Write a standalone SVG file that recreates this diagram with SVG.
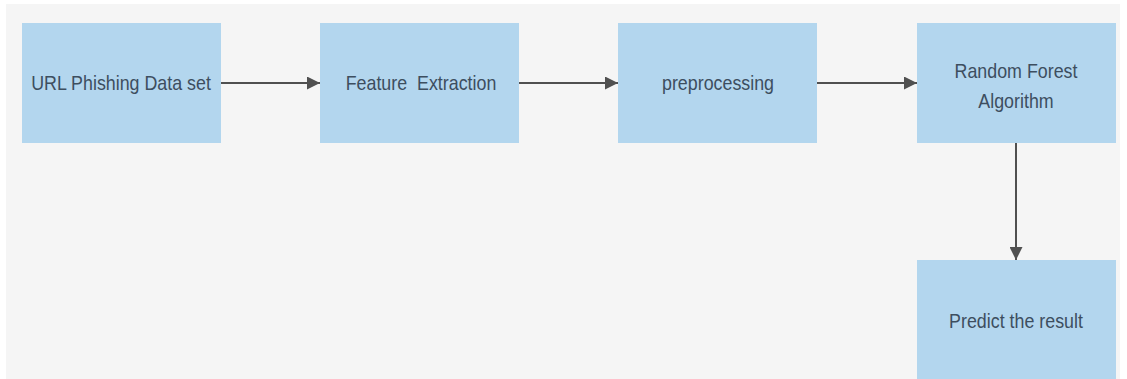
<svg xmlns="http://www.w3.org/2000/svg" width="1127" height="379" viewBox="0 0 1127 379">
<style>
.box{fill:#b3d6ee;}
.lbl{font-family:"Liberation Sans",Arial,sans-serif;font-size:21px;fill:#3d4e5f;text-anchor:middle;}
.edge{stroke:#505050;stroke-width:2;fill:none;}
</style>
<defs>
<marker id="ah" viewBox="0 0 10 10" refX="10" refY="5" markerWidth="6.5" markerHeight="6.5" markerUnits="strokeWidth" orient="auto">
<path d="M0,0 L10,5 L0,10 z" fill="#505050"/>
</marker>
</defs>
<rect x="0" y="0" width="1127" height="379" fill="#ffffff"/>
<rect x="6" y="4" width="1114" height="375" fill="#f5f5f5"/>
<g id="connectors">
<line class="edge" x1="221" y1="83" x2="320" y2="83" marker-end="url(#ah)"/>
<line class="edge" x1="519" y1="83" x2="618" y2="83" marker-end="url(#ah)"/>
<line class="edge" x1="817" y1="83" x2="917" y2="83" marker-end="url(#ah)"/>
<line class="edge" x1="1016" y1="143" x2="1016" y2="260" marker-end="url(#ah)"/>
</g>
<g id="n1"><rect class="box" x="22" y="23" width="199" height="120"/><text class="lbl" transform="translate(121,90) scale(0.85,1)">URL Phishing Data set</text></g>
<g id="n2"><rect class="box" x="320" y="23" width="199" height="120"/><text class="lbl" transform="translate(421,90) scale(0.85,1)" xml:space="preserve">Feature  Extraction</text></g>
<g id="n3"><rect class="box" x="618" y="23" width="199" height="120"/><text class="lbl" transform="translate(718,90) scale(0.85,1)">preprocessing</text></g>
<g id="n4"><rect class="box" x="917" y="23" width="199" height="120"/><text class="lbl" transform="translate(1016,78) scale(0.85,1)">Random Forest</text><text class="lbl" transform="translate(1016,108) scale(0.85,1)">Algorithm</text></g>
<g id="n5"><rect class="box" x="917" y="260" width="199" height="119"/><text class="lbl" transform="translate(1016,328) scale(0.85,1)">Predict the result</text></g>
</svg>
